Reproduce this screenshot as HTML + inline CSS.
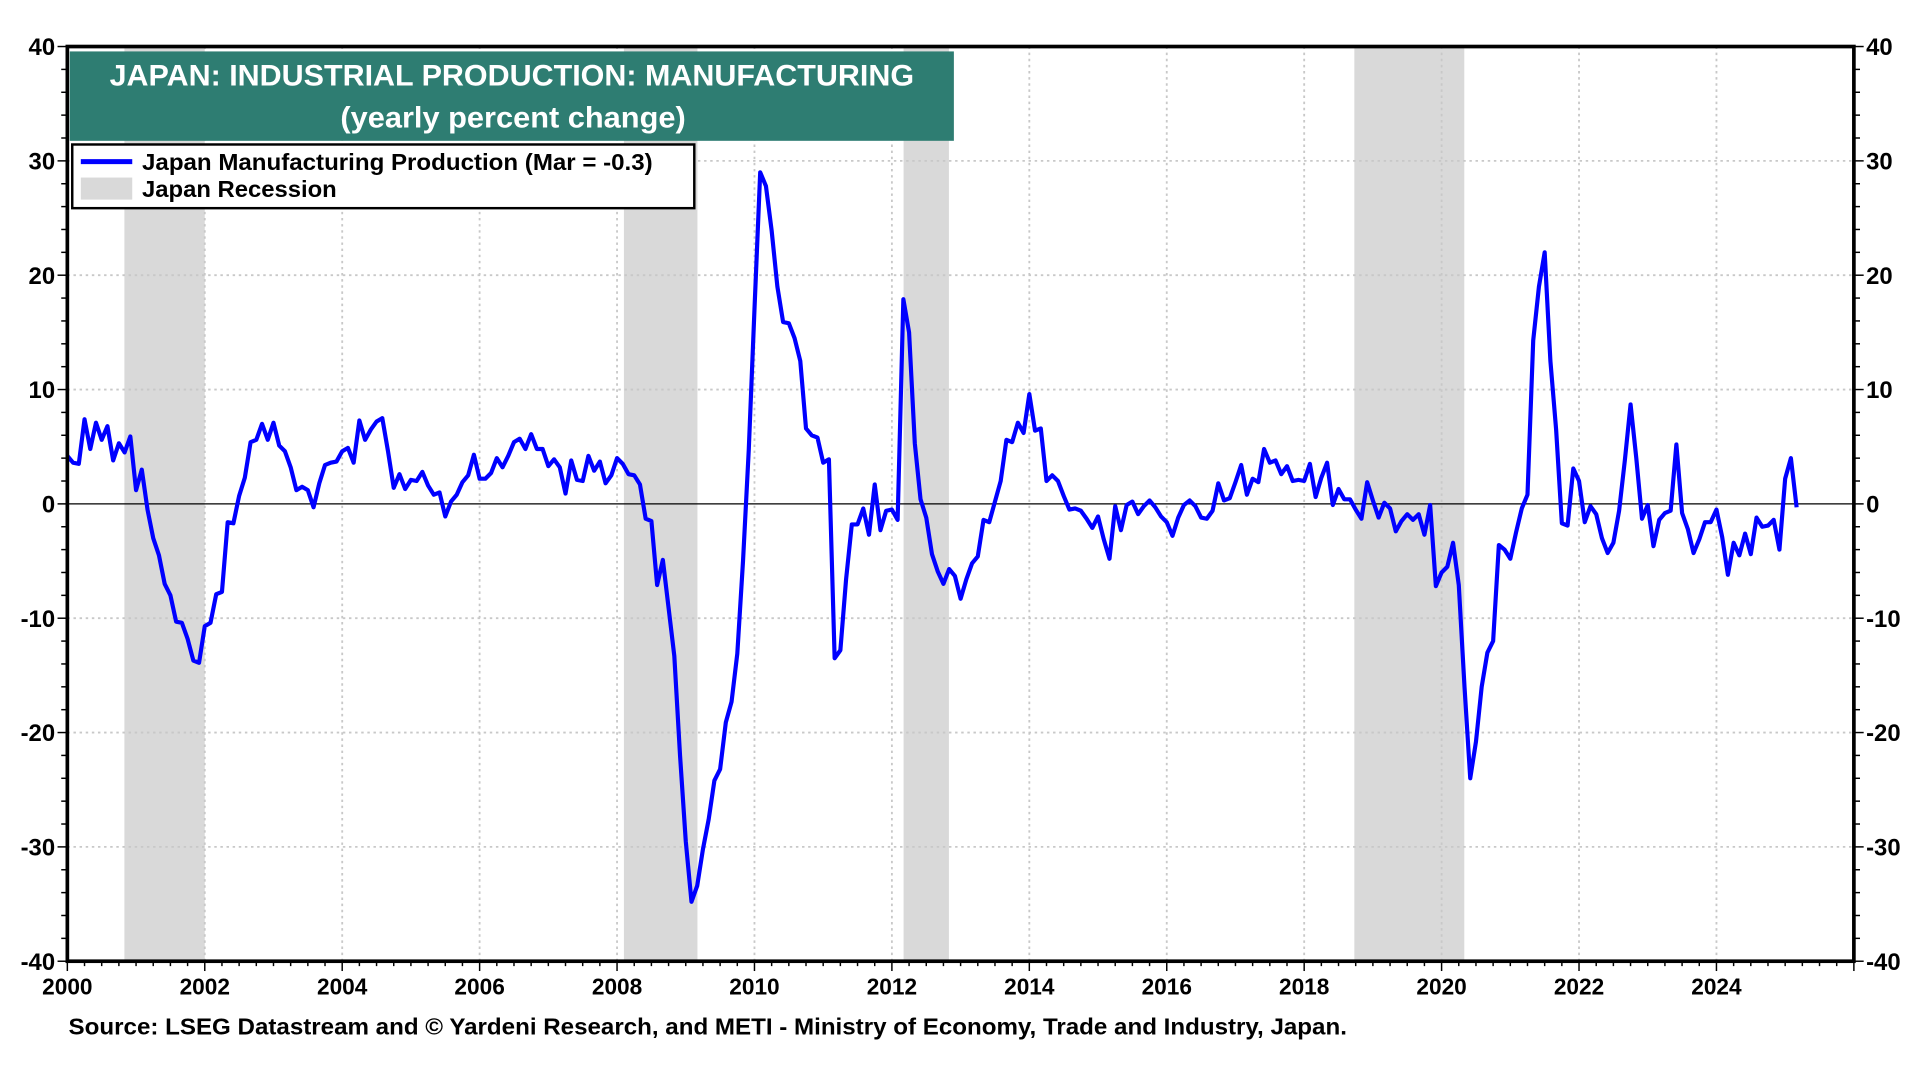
<!DOCTYPE html>
<html><head><meta charset="utf-8"><style>
html,body{margin:0;padding:0;background:#fff;width:1920px;height:1080px;overflow:hidden}
svg{display:block}
text{font-family:"Liberation Sans",Arial,sans-serif;font-weight:bold}
</style></head><body>
<svg id="chart" width="1920" height="1080" viewBox="0 0 1568 882" preserveAspectRatio="none" xmlns="http://www.w3.org/2000/svg">
<g id="rec"></g>
<g id="grid"></g>
<g id="axes"></g>
<path id="line" fill="none" stroke="#0000ff" stroke-width="3.4" stroke-linejoin="round"/>
<rect x="55" y="38" width="1459" height="747" fill="none" stroke="#000" stroke-width="3"/>
<g>
<rect x="57" y="42" width="722" height="73" fill="#2e7d72"/>
<text x="418" y="70" font-size="24.5" fill="#fff" text-anchor="middle" textLength="657" lengthAdjust="spacingAndGlyphs">JAPAN: INDUSTRIAL PRODUCTION: MANUFACTURING</text>
<text x="419" y="104" font-size="24.5" fill="#fff" text-anchor="middle" textLength="282" lengthAdjust="spacingAndGlyphs">(yearly percent change)</text>
</g>
<g>
<rect x="59" y="118" width="508" height="52" fill="#fff" stroke="#000" stroke-width="2"/>
<line x1="66" y1="132" x2="108" y2="132" stroke="#0000ff" stroke-width="4"/>
<text x="116" y="139" font-size="19" textLength="417" lengthAdjust="spacingAndGlyphs">Japan Manufacturing Production (Mar = -0.3)</text>
<rect x="66" y="145" width="42" height="18" fill="#d9d9d9"/>
<text x="116" y="161" font-size="19" textLength="159" lengthAdjust="spacingAndGlyphs">Japan Recession</text>
</g>
<text x="56" y="845" font-size="18.5" textLength="1044" lengthAdjust="spacingAndGlyphs">Source: LSEG Datastream and © Yardeni Research, and METI - Ministry of Economy, Trade and Industry, Japan.</text>
</svg>
<script>
const recessions=[[2000.83,2002.0],[2008.1,2009.17],[2012.17,2012.83],[2018.73,2020.33]];
const yTicks=[40,30,20,10,0,-10,-20,-30,-40];
const xTicks=[2000,2002,2004,2006,2008,2010,2012,2014,2016,2018,2020,2022,2024];
const startYear=2000;
const values=[
4.2,3.6,3.5,7.4,4.8,7.1,5.6,6.8,3.8,5.3,4.5,5.9,
1.2,3.0,-0.5,-3.0,-4.5,-7.0,-8.0,-10.3,-10.4,-11.8,-13.7,-13.9,
-10.7,-10.4,-7.9,-7.7,-1.6,-1.7,0.7,2.3,5.4,5.6,7.0,5.6,
7.1,5.1,4.6,3.2,1.2,1.5,1.2,-0.3,1.8,3.4,3.6,3.7,
4.6,4.9,3.6,7.3,5.6,6.5,7.2,7.5,4.6,1.4,2.6,1.3,
2.1,2.0,2.8,1.6,0.8,1.0,-1.1,0.2,0.8,1.9,2.5,4.3,
2.2,2.2,2.7,4.0,3.2,4.2,5.4,5.7,4.8,6.1,4.8,4.8,
3.3,3.9,3.2,0.9,3.8,2.1,2.0,4.2,2.9,3.7,1.8,2.5,
4.0,3.5,2.6,2.5,1.7,-1.3,-1.5,-7.1,-4.9,-9.1,-13.3,-22.0,
-29.5,-34.8,-33.4,-30.2,-27.6,-24.2,-23.2,-19.1,-17.3,-13.1,-5.0,4.7,
17.0,29.0,27.8,23.9,19.0,15.9,15.8,14.5,12.5,6.6,6.0,5.8,
3.6,3.9,-13.5,-12.8,-6.6,-1.8,-1.8,-0.4,-2.7,1.7,-2.3,-0.6,
-0.5,-1.4,17.9,15.0,5.3,0.4,-1.2,-4.4,-5.9,-7.0,-5.7,-6.3,
-8.3,-6.6,-5.2,-4.6,-1.4,-1.6,0.2,2.0,5.6,5.4,7.1,6.2,
9.6,6.4,6.6,2.0,2.5,2.0,0.7,-0.5,-0.4,-0.6,-1.3,-2.1,
-1.1,-3.1,-4.8,-0.2,-2.3,-0.1,0.2,-0.9,-0.2,0.3,-0.3,-1.1,
-1.6,-2.8,-1.2,-0.1,0.3,-0.2,-1.2,-1.3,-0.6,1.8,0.3,0.5,
1.9,3.4,0.8,2.2,1.9,4.8,3.6,3.8,2.6,3.3,2.0,2.1,
2.0,3.5,0.6,2.3,3.6,-0.1,1.3,0.4,0.4,-0.5,-1.3,1.9,
0.3,-1.2,0.1,-0.4,-2.4,-1.5,-0.9,-1.4,-0.9,-2.7,-0.1,-7.2,
-6.0,-5.5,-3.4,-7.1,-16.0,-24.0,-20.8,-16.0,-13.0,-12.0,-3.6,-4.0,
-4.8,-2.5,-0.4,0.8,14.3,19.0,22.0,12.5,6.5,-1.7,-1.9,3.1,
2.0,-1.6,-0.2,-0.9,-3.0,-4.3,-3.4,-0.6,3.8,8.7,4.0,-1.3,
-0.1,-3.7,-1.4,-0.8,-0.6,5.2,-0.8,-2.2,-4.3,-3.1,-1.6,-1.6,
-0.5,-2.9,-6.2,-3.4,-4.5,-2.6,-4.4,-1.2,-2.0,-1.9,-1.4,-4.0,
2.2,4.0,-0.3];
const NS='http://www.w3.org/2000/svg';
const X0=55,X1=1514,Y0=38,Y1=785,XMIN=2000,XMAX=2026,YMIN=-40,YMAX=40;
function xs(t){return X0+(t-XMIN)/(XMAX-XMIN)*(X1-X0);}
function ys(v){return Y1-(v-YMIN)/(YMAX-YMIN)*(Y1-Y0);}
function mk(tag,attrs,parent){const e=document.createElementNS(NS,tag);for(const k in attrs)e.setAttribute(k,attrs[k]);parent.appendChild(e);return e;}
const rec=document.getElementById('rec'),grid=document.getElementById('grid'),axes=document.getElementById('axes');
recessions.forEach(r=>{const e=mk('rect',{x:xs(r[0]),y:Y0,width:xs(r[1])-xs(r[0]),height:Y1-Y0,fill:'#d9d9d9'},rec);

});
yTicks.forEach(v=>{const y=ys(v);
if(v!==40&&v!==-40){const g=mk('line',{x1:X0,x2:X1,y1:y,y2:y,stroke:v===0?'#000':'#c8c8c8','stroke-width':v===0?1:1.5,'stroke-dasharray':v===0?'':'2 3'},grid);

}
[['end',X0-10],['start',X1+10]].forEach(s=>{const t=mk('text',{x:s[1],y:y+7,'font-size':19.5,'text-anchor':s[0]},axes);t.textContent=v;

});});
for(let v=YMIN;v<=YMAX;v+=2){const y=ys(v),L=(v%10===0)?8:5;
mk('line',{x1:X0-L,x2:X0,y1:y,y2:y,stroke:'#000','stroke-width':1.2},axes);
mk('line',{x1:X1,x2:X1+L,y1:y,y2:y,stroke:'#000','stroke-width':1.2},axes);}
xTicks.forEach(t=>{const x=xs(t);
if(t!==2000){const g=mk('line',{x1:x,x2:x,y1:Y0,y2:Y1,stroke:'#c8c8c8','stroke-width':1.5,'stroke-dasharray':'2 3'},grid);

}
const l=mk('text',{x:x,y:Y1+27,'font-size':18.5,'text-anchor':'middle'},axes);l.textContent=t;

});
for(let q=XMIN*4;q<=XMAX*4;q++){const t=q/4,x=xs(t);const L=(q%8===0)?8:4;
mk('line',{x1:x,x2:x,y1:Y1,y2:Y1+L,stroke:'#000','stroke-width':1.2},axes);}
let d='';values.forEach((v,i)=>{d+=(i?'L':'M')+xs(startYear+i/12).toFixed(2)+','+ys(v).toFixed(2);});
document.getElementById('line').setAttribute('d',d);
</script>
</body></html>
